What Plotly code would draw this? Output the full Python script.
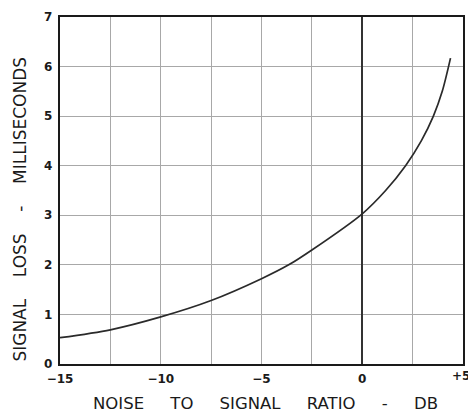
import plotly.graph_objects as go

# Data
noise_db = [-15, -12.5, -10, -7.5, -5, -3.65, -2.5, 0, 1.16, 2.15, 2.93, 3.53, 3.97, 4.38]
loss_ms = [0.53, 0.69, 0.95, 1.28, 1.72, 2.0, 2.3, 3.03, 3.5, 4.0, 4.5, 5.0, 5.5, 6.17]

x_grid = [-15, -12.5, -10, -7.5, -5, -2.5, 0, 2.5, 5]
x_text = ["−15", "", "−10", "", "−5", "", "0", "", ""]
y_grid = [0, 1, 2, 3, 4, 5, 6, 7]
y_text = ["0", "1", "2", "3", "4", "5", "6", "7"]
last_x_label = "+5"

x_title = "NOISE     TO     SIGNAL     RATIO     -     DB"
y_title = "SIGNAL    LOSS    -    MILLISECONDS"

NB = "\u00a0"

fig = go.Figure()
fig.add_trace(go.Scatter(
    x=noise_db, y=loss_ms, mode="lines",
    line=dict(color="#2a2a2a", width=1.7, shape="spline", smoothing=0.8),
    hoverinfo="skip", showlegend=False,
))

tick_font = dict(family="DejaVu Sans", size=12, color="#1a1a1a", weight="bold")

# page body has an 8px default margin, so the figure is shrunk accordingly
fig.update_layout(
    width=468, height=405,
    margin=dict(l=52, r=13, t=9, b=49),
    paper_bgcolor="white", plot_bgcolor="white",
    font=dict(family="DejaVu Sans", color="#1a1a1a"),
    xaxis=dict(
        range=[-15, 5], tickvals=x_grid, ticktext=x_text,
        showgrid=True, gridcolor="#a8a8a8", gridwidth=1,
        zeroline=True, zerolinecolor="#333333", zerolinewidth=1.6,
        showline=True, linecolor="#1a1a1a", linewidth=2.4, mirror=True,
        ticks="", ticklabelstandoff=2, automargin=False,
        tickfont=tick_font,
    ),
    yaxis=dict(
        range=[0, 7], tickvals=y_grid, ticktext=y_text,
        showgrid=True, gridcolor="#a8a8a8", gridwidth=1,
        zeroline=False,
        showline=True, linecolor="#1a1a1a", linewidth=2.4, mirror=True,
        ticks="", ticklabelstandoff=3, automargin=False,
        tickfont=tick_font,
    ),
    annotations=[
        dict(text=last_x_label, xref="x", yref="paper",
             x=5, y=0, yshift=-3, xshift=-2, xanchor="center", yanchor="top",
             showarrow=False, font=tick_font),
        dict(text=x_title.replace(" ", NB), xref="paper", yref="paper",
             x=0.51, y=0, yshift=-39, xanchor="center", yanchor="middle",
             showarrow=False,
             font=dict(family="DejaVu Sans", size=16.5, color="#1a1a1a")),
        dict(text=y_title.replace(" ", NB), xref="paper", yref="paper",
             x=0, xshift=-40, y=0.445, xanchor="center", yanchor="middle",
             textangle=-90, showarrow=False,
             font=dict(family="DejaVu Sans", size=17, color="#1a1a1a")),
    ],
)

fig.write_html("out.html")
